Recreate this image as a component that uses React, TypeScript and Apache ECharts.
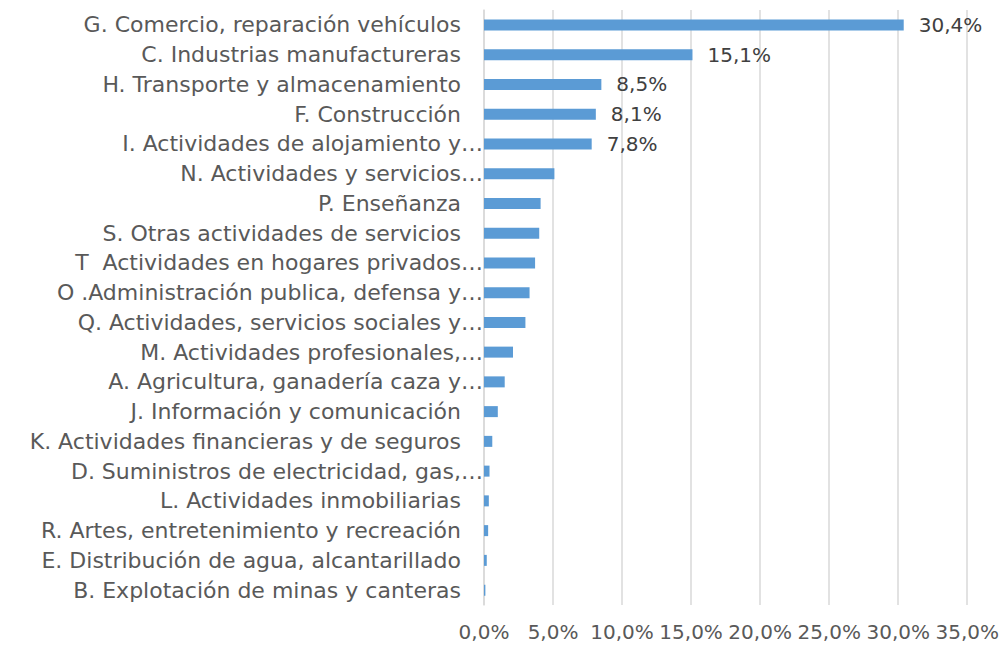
import React, { useEffect, useRef } from "react";
import * as echarts from "echarts";

const categories = [
  "G. Comercio, reparación vehículos",
  "C. Industrias manufactureras",
  "H. Transporte y almacenamiento",
  "F. Construcción",
  "I. Actividades de alojamiento y…",
  "N. Actividades y servicios…",
  "P. Enseñanza",
  "S. Otras actividades de servicios",
  "T  Actividades en hogares privados…",
  "O .Administración publica, defensa y…",
  "Q. Actividades, servicios sociales y…",
  "M. Actividades profesionales,…",
  "A. Agricultura, ganadería caza y…",
  "J. Información y comunicación",
  "K. Actividades financieras y de seguros",
  "D. Suministros de electricidad, gas,…",
  "L. Actividades inmobiliarias",
  "R. Artes, entretenimiento y recreación",
  "E. Distribución de agua, alcantarillado",
  "B. Explotación de minas y canteras",
];

const values = [30.4, 15.1, 8.5, 8.1, 7.8, 5.1, 4.1, 4.0, 3.7, 3.3, 3.0, 2.1, 1.5, 1.0, 0.6, 0.4, 0.35, 0.3, 0.2, 0.1];

const labeledCount = 5;

const xTicks = { min: 0, max: 35, interval: 5 };

const FONT = "DejaVu Sans";

const fmt = (v: number) => v.toFixed(1).replace(".", ",") + "%";

export default function App() {
  const ref = useRef<HTMLDivElement>(null);
  useEffect(() => {
    if (!ref.current) return;
    const chart = echarts.init(ref.current, undefined, { renderer: "svg" });
    chart.setOption({
      animation: false,
      backgroundColor: "#ffffff",
      grid: { left: 484, right: 34, top: 10, bottom: 41, containLabel: false },
      xAxis: {
        type: "value",
        min: xTicks.min,
        max: xTicks.max,
        interval: xTicks.interval,
        axisLine: { show: false },
        axisTick: { show: false },
        splitLine: { show: true, lineStyle: { color: "#D9D9D9", width: 1.5 } },
        axisLabel: {
          formatter: (v: number) => fmt(v),
          color: "#595959",
          fontFamily: FONT,
          fontSize: 20,
          margin: 17,
        },
      },
      yAxis: {
        type: "category",
        inverse: true,
        data: categories,
        axisTick: { show: false },
        axisLine: { show: true, lineStyle: { color: "#D9D9D9", width: 1.5 } },
        axisLabel: {
          margin: 1,
          color: "#595959",
          fontFamily: FONT,
          fontSize: 22,
          formatter: (v: string) => (v.endsWith("…") ? v : "{p|" + v + "}"),
          rich: {
            p: {
              color: "#595959",
              fontFamily: FONT,
              fontSize: 22,
              padding: [0, 22, 0, 0],
            },
          },
        },
      },
      series: [
        {
          type: "bar",
          barWidth: 11,
          itemStyle: { color: "#5B9BD5" },
          data: values.map((v, i) => ({
            value: v,
            label: {
              show: i < labeledCount,
              position: "right",
              distance: 15,
              formatter: (p: any) => fmt(p.value),
              color: "#404040",
              fontFamily: FONT,
              fontSize: 20,
            },
          })),
        },
      ],
    });
    return () => chart.dispose();
  }, []);
  return (
    <div
      ref={ref}
      style={{ position: "absolute", left: 0, top: 0, width: 1002, height: 646 }}
    />
  );
}
